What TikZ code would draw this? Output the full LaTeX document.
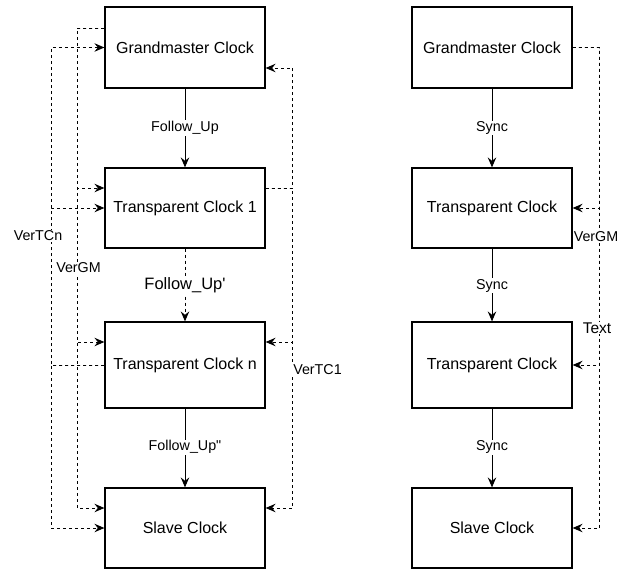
\documentclass[tikz,border=0pt]{standalone}
\usepackage{fontspec}
\setmainfont{Liberation Sans}
\usetikzlibrary{arrows.meta}
\begin{document}
\begin{tikzpicture}[x=1pt,y=-1pt,
  box/.style={draw=black,line width=1.2pt,minimum width=160pt,inner sep=0pt,font=\fontsize{16}{19}\selectfont},
  tip/.style={-{Stealth[length=10pt,width=8.5pt,inset=3.5pt]}},
  solidcon/.style={tip,line width=1pt,draw=black},
  dsh/.style={tip,line width=1pt,draw=black,dash pattern=on 3pt off 3pt},
  lbl/.style={fill=white,inner sep=1pt,font=\fontsize{14.3}{17}\selectfont},
  biglbl/.style={fill=white,inner sep=1pt,font=\fontsize{16.5}{19}\selectfont}]
\useasboundingbox (0,0) rectangle (623,571);
% left column
\node[box,minimum height=81pt] (gmL) at (185,47.5) {Grandmaster Clock};
\node[box,minimum height=80pt] (tc1L) at (185,208) {Transparent Clock 1};
\node[box,minimum height=86pt] (tcnL) at (185,365) {Transparent Clock n};
\node[box,minimum height=80pt] (slL) at (185,528) {Slave Clock};
% right column
\node[box,minimum height=81pt] (gmR) at (492,47.5) {Grandmaster Clock};
\node[box,minimum height=80pt] (tcaR) at (492,208) {Transparent Clock};
\node[box,minimum height=86pt] (tcbR) at (492,365) {Transparent Clock};
\node[box,minimum height=80pt] (slR) at (492,528) {Slave Clock};
% helper y levels
\coordinate (y28) at (0,28);
\coordinate (y68) at (0,68);
\coordinate (y188) at (0,188);
\coordinate (y342) at (0,342);
\coordinate (y508) at (0,508);
% vertical flow left
\draw[solidcon] (gmL) -- node[lbl]{Follow\_Up} (tc1L);
\draw[dsh] (tc1L) -- node[biglbl]{Follow\_Up\textquotesingle} (tcnL);
\draw[solidcon] (tcnL) -- node[lbl,pos=0.49]{Follow\_Up\textquotedbl} (slL);
% vertical flow right
\draw[solidcon] (gmR) -- node[lbl,pos=0.5]{Sync} (tcaR);
\draw[solidcon] (tcaR) -- node[lbl,pos=0.51]{Sync} (tcbR);
\draw[solidcon] (tcbR) -- node[lbl,pos=0.49]{Sync} (slR);
% VerGM left (x=78)
\draw[dsh] (gmL.west |- y28) -- ++(-27,0) |- (tc1L.west |- y188);
\draw[dsh] (gmL.west |- y28) -- ++(-27,0) |- (tcnL.west |- y342);
\draw[dsh] (gmL.west |- y28) -- ++(-27,0) |- (slL.west |- y508);
% VerTCn (x=52)
\draw[dsh] (tcnL.west) -- ++(-53,0) |- (gmL.west);
\draw[dsh] (tcnL.west) -- ++(-53,0) |- (tc1L.west);
\draw[dsh] (tcnL.west) -- ++(-53,0) |- (slL.west);
% VerTC1 (x=292)
\draw[dsh] (tc1L.east |- y188) -- ++(27,0) |- (gmL.east |- y68);
\draw[dsh] (tc1L.east |- y188) -- ++(27,0) |- (tcnL.east |- y342);
\draw[dsh] (tc1L.east |- y188) -- ++(27,0) |- (slL.east |- y508);
% VerGM right (x=599)
\draw[dsh] (gmR.east) -- ++(27,0) |- (tcaR.east);
\draw[dsh] (gmR.east) -- ++(27,0) |- (tcbR.east);
\draw[dsh] (gmR.east) -- ++(27,0) |- (slR.east);
% labels on dashed lines
\node[lbl] (lvtcn) at (38,236) {VerTCn};
\node[lbl] (lvgm) at (78.5,268) {VerGM};
\node[lbl] (lvtc1) at (317.5,370) {VerTC1};
\node[lbl] (rvgm) at (596,237) {VerGM};
\node[lbl,font=\fontsize{15.5}{18}\selectfont] (rtext) at (597,328) {Text};
\end{tikzpicture}
\end{document}
